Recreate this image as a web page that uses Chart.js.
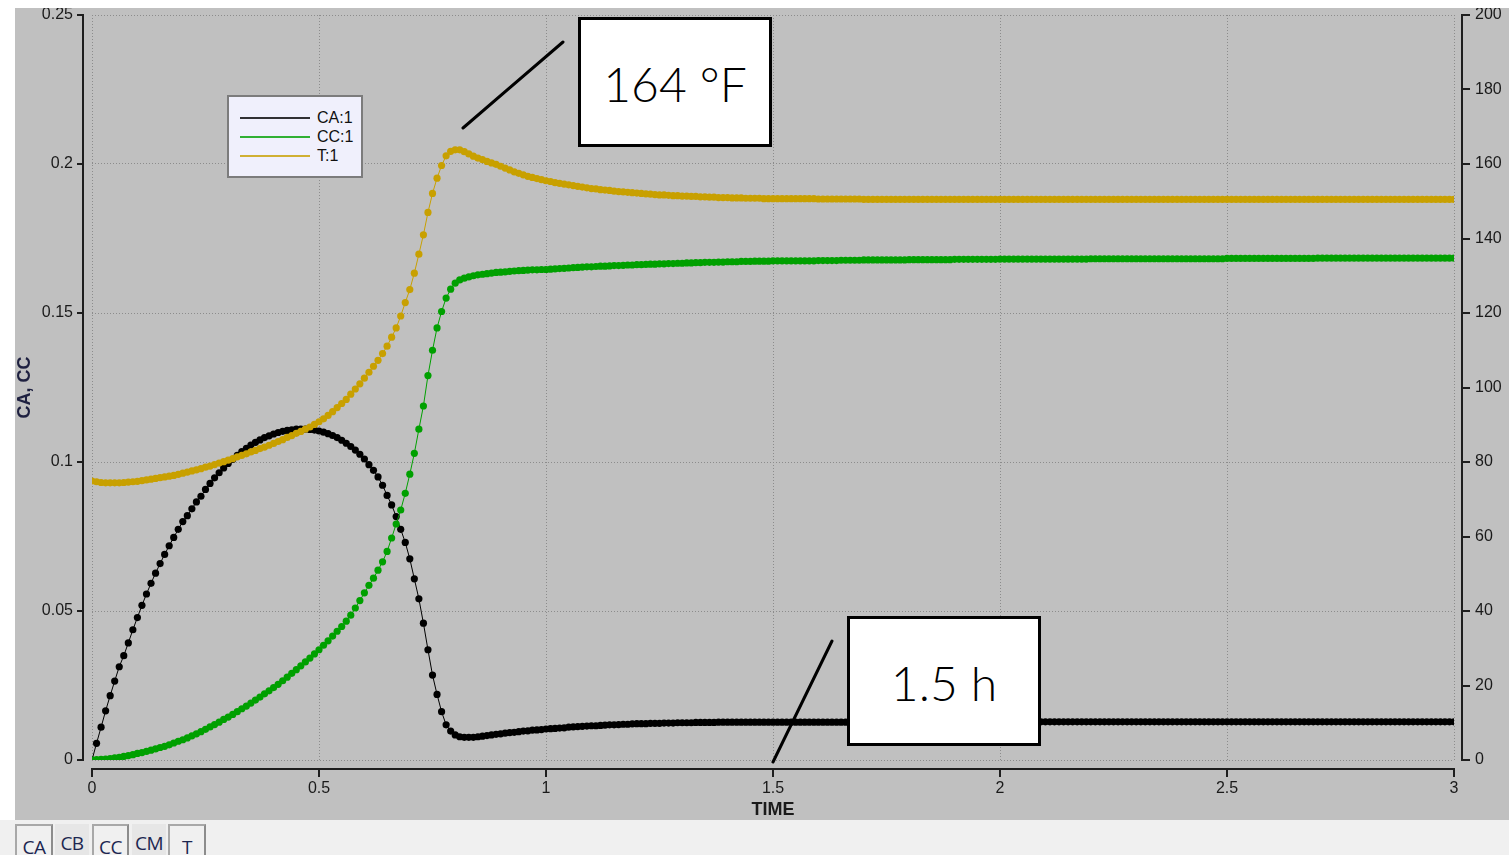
<!DOCTYPE html>
<html><head><meta charset="utf-8">
<script src="https://cdn.jsdelivr.net/npm/chart.js@4.4.1/dist/chart.umd.min.js"></script>
<style>
html,body{margin:0;padding:0;background:#fff;width:1509px;height:855px;overflow:hidden;position:relative;font-family:'Liberation Sans',Arial,sans-serif}
#panel{position:absolute;left:15px;top:8px;width:1494px;height:812px;background:#c0c0c0}
#c{position:absolute;left:0;top:0}
#tabbar{position:absolute;left:0;top:820px;width:1509px;height:35px;background:#f0f0f0}
.tab{position:absolute;top:4px;height:31px;box-sizing:border-box;font-family:'Open Sans','Noto Sans',sans-serif;font-size:19px;color:#1c2650;text-align:center;line-height:42px;letter-spacing:-0.5px}
.tab.on{border:2px solid #a8a8a8;border-bottom:none;border-right-color:#8c8c8c;background:#f0f0f0}
.tab.off{background:#e6e6e6;line-height:38px}
#legend{position:absolute;left:227px;top:95px;width:136px;height:83px;box-sizing:border-box;border:2px solid #7c7c7c;background:#f0f0fc}
.lg-row{position:absolute;left:11px;height:19px;width:120px}
.lg-line{position:absolute;left:0;top:9px;width:70px;height:2px;opacity:0.8}
.lg-txt{position:absolute;left:77px;top:0;font-size:16px;line-height:19px;color:#111}
.note{position:absolute;box-sizing:border-box;border:3px solid #000;background:#fff;display:flex;align-items:center;justify-content:center;font-family:'URW Gothic','URW Gothic L','Century Gothic','Lato',sans-serif;font-weight:300;font-size:48px;color:#000;padding-top:2px}
#lines{position:absolute;left:0;top:0;pointer-events:none}
</style>
</head><body>
<div id="panel"><canvas id="c" width="1494" height="812"></canvas></div>
<div id="legend"></div>
<svg id="lines" width="1509" height="855">
  <line x1="463" y1="128" x2="563" y2="42" stroke="#000" stroke-width="3" stroke-linecap="round"/>
  <line x1="773" y1="762" x2="832" y2="641" stroke="#000" stroke-width="3" stroke-linecap="round"/>
</svg>
<div class="note" style="left:578px;top:17px;width:194px;height:130px">164 °F</div>
<div class="note" style="left:847px;top:616px;width:194px;height:130px">1.5 h</div>
<div id="tabbar">
  <div class="tab on" style="left:15px;width:38px">CA</div>
  <div class="tab off" style="left:55px;width:34px">CB</div>
  <div class="tab on" style="left:92px;width:37px">CC</div>
  <div class="tab off" style="left:132px;width:34px">CM</div>
  <div class="tab on" style="left:168px;width:38px">T</div>
</div>
<script>
// Sampling step of the simulation output (TIME)
const DT = 0.01;

// CA, left axis
const CA = [
0, 0.0056, 0.0110, 0.0165, 0.0216, 0.0265, 0.0313, 0.0350, 0.0393, 0.0437,
0.0478, 0.0519, 0.0557, 0.0593, 0.0627, 0.0659, 0.0690, 0.0719, 0.0747, 0.0774,
0.0800, 0.0820, 0.0843, 0.0866, 0.0885, 0.0908, 0.0928, 0.0947, 0.0964, 0.0980,
0.0995, 0.1009, 0.1022, 0.1035, 0.1046, 0.1057, 0.1066, 0.1074, 0.1082, 0.1088,
0.1094, 0.1099, 0.1103, 0.1106, 0.1108, 0.1110, 0.1110, 0.1110, 0.1109, 0.1107,
0.1104, 0.1100, 0.1095, 0.1089, 0.1082, 0.1073, 0.1063, 0.1052, 0.1040, 0.1026,
0.1010, 0.0991, 0.0972, 0.0950, 0.0922, 0.0888, 0.0856, 0.0817, 0.0774, 0.0730,
0.0675, 0.0608, 0.0541, 0.0459, 0.0370, 0.0285, 0.0220, 0.0162, 0.0118, 0.0097,
0.0084, 0.0078, 0.0076, 0.0076, 0.0076, 0.0078, 0.0080, 0.0082, 0.0084, 0.0086,
0.0088, 0.0090, 0.0092, 0.0093, 0.0095, 0.0097, 0.0098, 0.0100, 0.0101, 0.0102,
0.0104, 0.0105, 0.0106, 0.0107, 0.0108, 0.0110, 0.0111, 0.0112, 0.0113, 0.0114,
0.0115, 0.0115, 0.0116, 0.0117, 0.0118, 0.0118, 0.0119, 0.0120, 0.0120, 0.0121,
0.0122, 0.0122, 0.0122, 0.0123, 0.0123, 0.0123, 0.0124, 0.0124, 0.0124, 0.0125,
0.0125, 0.0125, 0.0125, 0.0126, 0.0126, 0.0126, 0.0126, 0.0126, 0.0127, 0.0127,
0.0127, 0.0127, 0.0127, 0.0127, 0.0127, 0.0127, 0.0127, 0.0127, 0.0127, 0.0127,
0.0127, 0.0127, 0.0127, 0.0127, 0.0127, 0.0127, 0.0127, 0.0127, 0.0127, 0.0127,
0.0127, 0.0127, 0.0127, 0.0127, 0.0127, 0.0127, 0.0127, 0.0127, 0.0127, 0.0127,
0.0127, 0.0127, 0.0127, 0.0127, 0.0127, 0.0127, 0.0127, 0.0127, 0.0127, 0.0127,
0.0128, 0.0128, 0.0128, 0.0128, 0.0128, 0.0128, 0.0128, 0.0128, 0.0128, 0.0128,
0.0128, 0.0128, 0.0128, 0.0128, 0.0128, 0.0128, 0.0128, 0.0128, 0.0128, 0.0128,
0.0128, 0.0128, 0.0128, 0.0128, 0.0128, 0.0128, 0.0128, 0.0128, 0.0128, 0.0128,
0.0128, 0.0128, 0.0128, 0.0128, 0.0128, 0.0128, 0.0128, 0.0128, 0.0128, 0.0128,
0.0128, 0.0128, 0.0128, 0.0128, 0.0128, 0.0128, 0.0128, 0.0128, 0.0128, 0.0128,
0.0128, 0.0128, 0.0128, 0.0128, 0.0128, 0.0128, 0.0128, 0.0128, 0.0128, 0.0128,
0.0128, 0.0128, 0.0128, 0.0128, 0.0128, 0.0128, 0.0128, 0.0128, 0.0128, 0.0128,
0.0128, 0.0128, 0.0128, 0.0128, 0.0128, 0.0128, 0.0128, 0.0128, 0.0128, 0.0128,
0.0128, 0.0128, 0.0128, 0.0128, 0.0128, 0.0128, 0.0128, 0.0128, 0.0128, 0.0128,
0.0128, 0.0128, 0.0128, 0.0128, 0.0128, 0.0128, 0.0128, 0.0128, 0.0128, 0.0128,
0.0128, 0.0128, 0.0128, 0.0128, 0.0128, 0.0128, 0.0128, 0.0128, 0.0128, 0.0128,
0.0128, 0.0128, 0.0128, 0.0128, 0.0128, 0.0128, 0.0128, 0.0128, 0.0128, 0.0128,
0.0128
];

// CC, left axis
const CC = [
0.0000, 0.0001, 0.0002, 0.0003, 0.0005, 0.0007, 0.0009, 0.0012, 0.0015, 0.0018,
0.0022, 0.0025, 0.0029, 0.0033, 0.0037, 0.0042, 0.0046, 0.0051, 0.0057, 0.0063,
0.0068, 0.0074, 0.0081, 0.0088, 0.0095, 0.0103, 0.0111, 0.0119, 0.0127, 0.0136,
0.0144, 0.0153, 0.0162, 0.0172, 0.0181, 0.0191, 0.0201, 0.0211, 0.0222, 0.0232,
0.0243, 0.0254, 0.0266, 0.0278, 0.0291, 0.0303, 0.0316, 0.0329, 0.0342, 0.0356,
0.0370, 0.0385, 0.0400, 0.0416, 0.0432, 0.0448, 0.0466, 0.0486, 0.0510, 0.0535,
0.0561, 0.0586, 0.0610, 0.0637, 0.0665, 0.0700, 0.0745, 0.0792, 0.0839, 0.0895,
0.0959, 0.1029, 0.1110, 0.1188, 0.1290, 0.1375, 0.1450, 0.1505, 0.1550, 0.1580,
0.1600, 0.1611, 0.1617, 0.1621, 0.1625, 0.1628, 0.1630, 0.1632, 0.1634, 0.1636,
0.1637, 0.1638, 0.1640, 0.1641, 0.1642, 0.1643, 0.1644, 0.1645, 0.1645, 0.1646,
0.1646, 0.1647, 0.1648, 0.1649, 0.1650, 0.1651, 0.1652, 0.1653, 0.1654, 0.1655,
0.1655, 0.1656, 0.1657, 0.1657, 0.1658, 0.1659, 0.1659, 0.1660, 0.1661, 0.1661,
0.1662, 0.1662, 0.1663, 0.1664, 0.1664, 0.1665, 0.1665, 0.1666, 0.1666, 0.1667,
0.1667, 0.1668, 0.1668, 0.1669, 0.1669, 0.1670, 0.1670, 0.1670, 0.1671, 0.1671,
0.1672, 0.1672, 0.1672, 0.1673, 0.1673, 0.1673, 0.1674, 0.1674, 0.1674, 0.1674,
0.1675, 0.1675, 0.1675, 0.1675, 0.1675, 0.1675, 0.1675, 0.1675, 0.1675, 0.1675,
0.1676, 0.1676, 0.1676, 0.1676, 0.1676, 0.1677, 0.1677, 0.1677, 0.1677, 0.1677,
0.1678, 0.1678, 0.1678, 0.1678, 0.1678, 0.1678, 0.1678, 0.1678, 0.1678, 0.1678,
0.1679, 0.1679, 0.1679, 0.1679, 0.1679, 0.1679, 0.1679, 0.1679, 0.1679, 0.1679,
0.1680, 0.1680, 0.1680, 0.1680, 0.1680, 0.1680, 0.1680, 0.1680, 0.1680, 0.1680,
0.1681, 0.1681, 0.1681, 0.1681, 0.1681, 0.1681, 0.1681, 0.1681, 0.1681, 0.1681,
0.1681, 0.1681, 0.1681, 0.1681, 0.1681, 0.1681, 0.1681, 0.1681, 0.1681, 0.1681,
0.1682, 0.1682, 0.1682, 0.1682, 0.1682, 0.1682, 0.1682, 0.1682, 0.1682, 0.1682,
0.1682, 0.1682, 0.1682, 0.1682, 0.1682, 0.1682, 0.1682, 0.1682, 0.1682, 0.1682,
0.1682, 0.1682, 0.1682, 0.1682, 0.1682, 0.1682, 0.1682, 0.1682, 0.1682, 0.1682,
0.1683, 0.1683, 0.1683, 0.1683, 0.1683, 0.1683, 0.1683, 0.1683, 0.1683, 0.1683,
0.1683, 0.1683, 0.1683, 0.1683, 0.1683, 0.1683, 0.1683, 0.1683, 0.1683, 0.1683,
0.1684, 0.1684, 0.1684, 0.1684, 0.1684, 0.1684, 0.1684, 0.1684, 0.1684, 0.1684,
0.1684, 0.1684, 0.1684, 0.1684, 0.1684, 0.1684, 0.1684, 0.1684, 0.1684, 0.1684,
0.1684, 0.1684, 0.1684, 0.1684, 0.1684, 0.1684, 0.1684, 0.1684, 0.1684, 0.1684,
0.1684
];

// T (°F), right axis
const TEMP = [
74.9, 74.7, 74.5, 74.4, 74.4, 74.4, 74.4, 74.5, 74.6, 74.7,
74.8, 75.0, 75.2, 75.4, 75.6, 75.8, 76.0, 76.2, 76.4, 76.7,
77.0, 77.3, 77.6, 77.9, 78.2, 78.6, 78.9, 79.3, 79.7, 80.1,
80.5, 80.9, 81.4, 81.8, 82.2, 82.7, 83.1, 83.6, 84.0, 84.5,
85.0, 85.5, 86.0, 86.6, 87.1, 87.7, 88.2, 88.8, 89.4, 90.1,
90.8, 91.6, 92.5, 93.5, 94.6, 95.7, 96.8, 98.2, 99.6, 101.0,
102.5, 104.1, 105.7, 107.3, 109.1, 111.1, 113.5, 116.0, 119.2, 122.8,
126.3, 130.7, 135.8, 141.0, 147.0, 152.1, 156.2, 159.6, 162.2, 163.4,
163.8, 163.8, 163.3, 162.7, 162.1, 161.6, 161.2, 160.7, 160.3, 159.9,
159.4, 158.9, 158.4, 157.9, 157.5, 157.1, 156.7, 156.4, 156.1, 155.8,
155.5, 155.3, 155.0, 154.8, 154.6, 154.4, 154.2, 154.0, 153.8, 153.6,
153.4, 153.3, 153.1, 153.0, 152.9, 152.7, 152.6, 152.5, 152.4, 152.3,
152.2, 152.1, 152.0, 151.9, 151.8, 151.7, 151.7, 151.6, 151.5, 151.5,
151.4, 151.4, 151.3, 151.3, 151.2, 151.2, 151.1, 151.1, 151.0, 151.0,
151.0, 150.9, 150.9, 150.9, 150.8, 150.8, 150.8, 150.8, 150.7, 150.7,
150.7, 150.7, 150.7, 150.7, 150.7, 150.7, 150.7, 150.7, 150.7, 150.7,
150.6, 150.6, 150.6, 150.6, 150.6, 150.6, 150.6, 150.6, 150.6, 150.6,
150.5, 150.5, 150.5, 150.5, 150.5, 150.5, 150.5, 150.5, 150.5, 150.5,
150.5, 150.5, 150.5, 150.5, 150.5, 150.5, 150.5, 150.5, 150.5, 150.5,
150.5, 150.5, 150.5, 150.5, 150.5, 150.5, 150.5, 150.5, 150.5, 150.5,
150.5, 150.5, 150.5, 150.5, 150.5, 150.5, 150.5, 150.5, 150.5, 150.5,
150.5, 150.5, 150.5, 150.5, 150.5, 150.5, 150.5, 150.5, 150.5, 150.5,
150.5, 150.5, 150.5, 150.5, 150.5, 150.5, 150.5, 150.5, 150.5, 150.5,
150.5, 150.5, 150.5, 150.5, 150.5, 150.5, 150.5, 150.5, 150.5, 150.5,
150.5, 150.5, 150.5, 150.5, 150.5, 150.5, 150.5, 150.5, 150.5, 150.5,
150.5, 150.5, 150.5, 150.5, 150.5, 150.5, 150.5, 150.5, 150.5, 150.5,
150.5, 150.5, 150.5, 150.5, 150.5, 150.5, 150.5, 150.5, 150.5, 150.5,
150.5, 150.5, 150.5, 150.5, 150.5, 150.5, 150.5, 150.5, 150.5, 150.5,
150.5, 150.5, 150.5, 150.5, 150.5, 150.5, 150.5, 150.5, 150.5, 150.5,
150.5, 150.5, 150.5, 150.5, 150.5, 150.5, 150.5, 150.5, 150.5, 150.5,
150.5
];

const SERIES_LABELS = ['CA:1', 'CC:1', 'T:1'];
const SERIES_COLORS = ['#000000', '#00a000', '#c8a000'];
const X_TICK_LABELS = ['0', '0.5', '1', '1.5', '2', '2.5', '3'];
const Y_TICK_LABELS = ['0', '0.05', '0.1', '0.15', '0.2', '0.25'];
const Y2_TICK_LABELS = ['0', '20', '40', '60', '80', '100', '120', '140', '160', '180', '200'];

const TIME = CA.map((_, i) => +(i * DT).toFixed(2));
const pts = arr => arr.map((v, i) => ({x: TIME[i], y: v}));

const tickFont = {family: "'Liberation Sans', Arial, sans-serif", size: 16};

const offsetAxes = {
  id: 'offsetAxes',
  afterDraw(chart) {
    const {ctx, chartArea: a, scales} = chart;
    const {x, y, y1} = scales;
    ctx.save();
    ctx.strokeStyle = '#1e1e1e';
    ctx.lineWidth = 2;
    ctx.beginPath();
    const lx = a.left - 9;
    ctx.moveTo(lx, y.getPixelForValue(y.max) - 1);
    ctx.lineTo(lx, y.getPixelForValue(y.min) + 1);
    y.ticks.forEach(t => { const p = Math.round(y.getPixelForValue(t.value)); ctx.moveTo(lx - 6, p); ctx.lineTo(lx, p); });
    const by = a.bottom + 9;
    ctx.moveTo(x.getPixelForValue(x.min) - 1, by);
    ctx.lineTo(x.getPixelForValue(x.max) + 1, by);
    x.ticks.forEach(t => { const p = Math.round(x.getPixelForValue(t.value)); ctx.moveTo(p, by); ctx.lineTo(p, by + 8); });
    const rx = a.right + 8;
    ctx.moveTo(rx, y1.getPixelForValue(y1.max) - 1);
    ctx.lineTo(rx, y1.getPixelForValue(y1.min) + 1);
    y1.ticks.forEach(t => { const p = Math.round(y1.getPixelForValue(t.value)); ctx.moveTo(rx, p); ctx.lineTo(rx + 8, p); });
    ctx.stroke();
    ctx.restore();
  }
};

const noPad = s => { s.paddingTop = 0; s.paddingBottom = 0; s.paddingLeft = 0; s.paddingRight = 0; };

const ds = (i, data, axis, order) => ({
  label: SERIES_LABELS[i], data: pts(data), yAxisID: axis, order,
  borderColor: SERIES_COLORS[i], backgroundColor: SERIES_COLORS[i],
  pointBackgroundColor: SERIES_COLORS[i], pointBorderWidth: 0,
  borderWidth: 1, pointRadius: 3.6, tension: 0
});

const chart = new Chart(document.getElementById('c'), {
  type: 'line',
  data: { datasets: [ ds(0, CA, 'y', 3), ds(1, CC, 'y', 2), ds(2, TEMP, 'y1', 1) ] },
  plugins: [offsetAxes],
  options: {
    responsive: false, animation: false, devicePixelRatio: 1,
    layout: { padding: {top: 7, left: 0, right: 0, bottom: 0} },
    plugins: { legend: {display: false}, tooltip: {enabled: false} },
    scales: {
      x: {
        type: 'linear', position: 'bottom', min: 0, max: 3,
        ticks: {stepSize: 0.5, padding: 19, color: '#1a1a1a', font: tickFont, maxRotation: 0,
                callback: (v, i) => X_TICK_LABELS[i]},
        grid: {color: '#8c8c8c', lineWidth: 1, drawTicks: false},
        border: {display: false, dash: [1, 2]},
        title: {display: true, text: 'TIME', color: '#1a1a1a', padding: {top: 0, bottom: -1},
                font: {family: "'Liberation Sans', Arial, sans-serif", size: 18, weight: 'bold'}},
        afterFit: s => { s.height = 60; noPad(s); }
      },
      y: {
        type: 'linear', position: 'left', min: 0, max: 0.25,
        ticks: {stepSize: 0.05, padding: 19, color: '#1a1a1a', font: tickFont,
                callback: (v, i) => Y_TICK_LABELS[i]},
        grid: {color: '#8c8c8c', lineWidth: 1, drawTicks: false},
        border: {display: false, dash: [1, 2]},
        title: {display: true, text: 'CA, CC', color: '#1e2040', padding: {top: -1, bottom: 0},
                font: {family: "'Liberation Sans', Arial, sans-serif", size: 18, weight: 'bold'}},
        afterFit: s => { s.width = 77; noPad(s); }
      },
      y1: {
        type: 'linear', position: 'right', min: 0, max: 200,
        ticks: {stepSize: 20, padding: 21, color: '#1a1a1a', font: tickFont,
                callback: (v, i) => Y2_TICK_LABELS[i]},
        grid: {display: false, drawOnChartArea: false, drawTicks: false},
        border: {display: false},
        afterFit: s => { s.width = 55; noPad(s); }
      }
    }
  }
});

// HTML legend built from the chart's datasets
const lg = document.getElementById('legend');
chart.data.datasets.forEach((d, i) => {
  const row = document.createElement('div');
  row.className = 'lg-row';
  row.style.top = (11 + i * 19) + 'px';
  row.innerHTML = '<div class="lg-line" style="background:' + d.borderColor + '"></div><div class="lg-txt">' + d.label + '</div>';
  lg.appendChild(row);
});
</script>
</body></html>
